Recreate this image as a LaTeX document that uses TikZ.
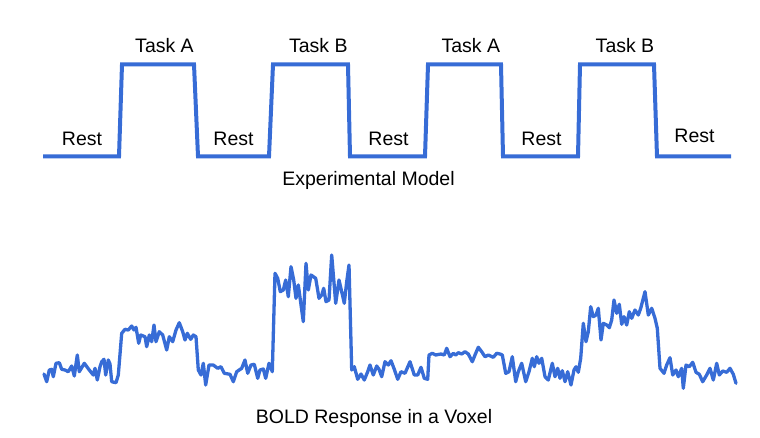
\documentclass[tikz,border=0pt]{standalone}
\usepackage{fontspec}
\setmainfont{Liberation Sans}
\begin{document}
\begin{tikzpicture}[x=1pt,y=-1pt,
  sig/.style={draw=sigblue,line width=4pt,line join=miter},
  boldsig/.style={draw=sigblue,line width=3.3pt,line join=round,line cap=round},
  lbl/.style={anchor=base,inner sep=0pt,font=\fontsize{19.5}{22}\selectfont},
]
\definecolor{sigblue}{RGB}{55,108,214}
\useasboundingbox (0,0) rectangle (760,438);
% experimental model
\draw[sig] (43,156.5) -- (119,156.5) -- (122,64.5) -- (194,64.5) -- (198,156.5)
  -- (269,156.5) -- (273,64.5) -- (348,64.5) -- (350,156.5)
  -- (425,156.5) -- (428,64.5) -- (501,64.5) -- (503,156.5)
  -- (578,156.5) -- (580,64.5) -- (654,64.5) -- (657,156.5) -- (731,156.5);
\node[lbl] (ta1) at (164.5,53) {Task A};
\node[lbl] (tb1) at (318.3,53) {Task B};
\node[lbl] (ta2) at (470.8,53) {Task A};
\node[lbl] (tb2) at (625,53) {Task B};
\node[lbl] (r1) at (82,146) {Rest};
\node[lbl] (r2) at (233.5,146) {Rest};
\node[lbl] (r3) at (388.5,146) {Rest};
\node[lbl] (r4) at (541.5,146) {Rest};
\node[lbl] (r5) at (694.5,143) {Rest};
\node[lbl] (em) at (368.5,186) {Experimental Model};
% BOLD response
\draw[boldsig] plot coordinates {
(44,374) (46.7,381.7) (49.3,370) (51.7,369.3) (53.3,376.7) (56,363.3) (59.3,362.7)
(61.7,369.3) (65,370) (68.3,371.7) (71.7,366) (74.3,376) (77.3,355) (79.3,371.7)
(84.3,363.3) (89.3,370) (93.3,375) (95,368.3) (97.3,380) (100,366.7) (101.7,361.7)
(104,359.3) (105.7,375) (108.3,360) (110,364) (111.7,381.7) (116,382.7) (118.3,375)
(121.7,333.3) (125,329.3) (128.3,330) (131.7,326) (134,330) (136,327.3) (138.7,343.3)
(140.7,335) (145,336.7) (146.7,346.7) (149.3,335) (151.7,341.7) (154,325) (156,341.7)
(159.3,331.7) (162.7,335) (166.7,350) (169.3,336.7) (172.7,341.7) (176,330) (179.3,322.7)
(182.7,331.7) (185,340) (187.3,333.3) (190.7,339.3) (193.3,335) (196,336.7) (198.3,370)
(201,375) (203.3,363.3) (205.7,385) (209,365) (213.3,365) (217.7,368.3) (221,366.7)
(224.3,373.3) (230,374.3) (233.3,381.7) (236.7,371.7) (241.7,368.3) (245,360) (247.7,373.3)
(251,365) (254.3,364.3) (257.7,378.3) (260,370) (263.3,369) (265.7,378.3) (269,363.3)
(272.3,371.7) (275,273.3) (277.7,278.3) (280.3,291.7) (283.3,290) (285.7,280) (288.3,296.7)
(291,266.7) (293.7,280) (296,298.3) (298.3,285) (303.3,321.7) (306,263.3) (308.3,290)
(311,275) (315.7,278.3) (319,298.3) (321.7,295) (323.7,288.3) (326,301.7) (329,300)
(331.7,255) (335.7,303.3) (339,280) (341.7,291.7) (344.3,303.3) (346.7,281.7) (349,265)
(351.7,370) (354.3,366.7) (357.7,379.3) (361,374) (364.3,380) (367.7,371.7) (370,365)
(373.3,375) (376.7,366) (379,369.3) (381.7,376.7) (385,361.7) (388.3,365) (391,360.7)
(394.3,369.3) (397.7,379.3) (401,371.7) (405,373.3) (410,361.7) (414.3,375) (417.7,375)
(421,367.3) (424.3,378.3) (427.7,379.3) (429,355) (432.3,353.3) (435.7,355) (441,354)
(444.3,355) (446.7,348.3) (450,356.7) (453.3,353.3) (455.7,355) (458.3,352.7) (461.7,354)
(465,351.7) (468.3,354) (472.3,361.7) (475.7,353.3) (478.3,347.3) (481.7,351.7) (485,356.7)
(488.3,355) (493.3,357.3) (496.7,353.3) (500,354) (502.3,355) (505.7,373.3) (509,371.7)
(512.3,356.7) (515.7,381.7) (518.3,371.7) (521.7,363.3) (525.7,381.7) (529,371.7)
(532.3,358.3) (534.3,366.7) (536.7,356.7) (539,363.3) (541.7,358.3) (545,376.7) (548.3,380)
(552.3,363.3) (555,376.7) (557.7,368.3) (560,378.3) (562.3,370.7) (565,381.7) (567.7,371.7)
(571,385) (574,370) (576,366.7) (578.3,372.3) (580.7,358.3) (583.3,323.3) (586,341.7)
(588.3,331.7) (590.7,306.7) (593.3,316.7) (596,315) (598.3,308.3) (601,340) (603.3,323.3)
(606.7,325) (609.3,327.7) (611.7,320) (614,300) (616.7,313.3) (619.3,304.3) (621.7,324.3)
(624,316.7) (626.7,325) (629.3,311.7) (631.7,318.3) (635,310) (638.3,315) (640.7,308.3)
(645,291.7) (648.3,315) (651.7,308.3) (655,318.3) (657.3,328.3) (660,368.3) (664,373.3)
(666.7,365) (670,357.7) (672.7,375) (676,370) (678.3,376.7) (681.7,368.3) (683.3,388.3)
(686,365) (689.3,366.7) (692.7,362.3) (696,372.3) (699.3,374.3) (702.7,381.7) (706.7,375)
(710,368.3) (713.3,380) (716.7,363.3) (719.3,375) (722.7,371) (726.7,372.3) (730,368.3)
(733.3,374.3) (736,383.3)
};
\node[lbl] (bold) at (374,423) {BOLD Response in a Voxel};
\end{tikzpicture}
\end{document}
